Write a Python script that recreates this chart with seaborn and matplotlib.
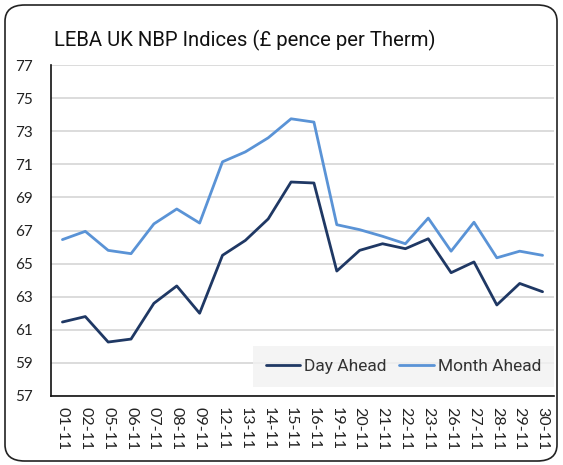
import matplotlib
matplotlib.use("Agg")
import matplotlib.pyplot as plt
import seaborn as sns
import pandas as pd
from matplotlib.patches import FancyBboxPatch

dates = ["01-11", "02-11", "05-11", "06-11", "07-11", "08-11", "09-11", "12-11",
         "13-11", "14-11", "15-11", "16-11", "19-11", "20-11", "21-11", "22-11",
         "23-11", "26-11", "27-11", "28-11", "29-11", "30-11"]
day_ahead = [61.47, 61.8, 60.26, 60.44, 62.6, 63.65, 62.0, 65.5, 66.4, 67.7, 69.93,
             69.87, 64.55, 65.8, 66.2, 65.9, 66.5, 64.45, 65.1, 62.5, 63.8, 63.3]
month_ahead = [66.45, 66.95, 65.8, 65.6, 67.4, 68.3, 67.45, 71.15, 71.75, 72.6, 73.75,
               73.55, 67.35, 67.05, 66.65, 66.2, 67.75, 65.75, 67.5, 65.35, 65.75, 65.5]
series_names = ["Day Ahead", "Month Ahead"]
yticks = [57, 59, 61, 63, 65, 67, 69, 71, 73, 75, 77]
title = "LEBA UK NBP Indices (£ pence per Therm)"

df = pd.DataFrame({
    "date": dates * 2,
    "value": day_ahead + month_ahead,
    "series": [series_names[0]] * len(dates) + [series_names[1]] * len(dates),
})
df["x"] = list(range(len(dates))) * 2

sns.set_style("white")
plt.rcParams["font.family"] = ["Lato", "DejaVu Sans"]

fig = plt.figure(figsize=(5.63, 4.65), dpi=100)
ax = fig.add_axes([0.0906, 0.1484, 0.9840 - 0.0906, 0.8602 - 0.1484])

palette = {"Day Ahead": "#1F3864", "Month Ahead": "#5A93D6"}
sns.lineplot(data=df, x="x", y="value", hue="series", palette=palette,
             linewidth=2.0, ax=ax, sort=False, legend=True)

ax.set_xlim(-0.5, len(dates) - 0.5)
ax.set_ylim(57, 77)
ax.set_yticks(yticks)
ax.set_yticklabels([str(v) for v in yticks], fontsize=11, color="#222222")
ax.set_xticks(range(len(dates)))
ax.set_xticklabels(dates, rotation=270, fontsize=11.5, color="#222222")
ax.tick_params(axis="y", length=0, pad=13)
ax.tick_params(axis="x", length=0, pad=8)
ax.set_xlabel("")
ax.set_ylabel("")
ax.yaxis.grid(True, color="#D9D9D9", linewidth=1.3)
ax.set_axisbelow(True)
for s in ["top", "right"]:
    ax.spines[s].set_visible(False)
for s in ["left", "bottom"]:
    ax.spines[s].set_color("#111111")
    ax.spines[s].set_linewidth(1.2)

leg = ax.legend(loc="lower right", bbox_to_anchor=(1.0, 0.027), ncol=2,
                frameon=True, handlelength=2.0, handletextpad=0.2,
                columnspacing=0.75, borderpad=0.75, borderaxespad=0, fancybox=False,
                prop={"family": ["Roboto", "DejaVu Sans"], "size": 12.5})
leg.get_frame().set_facecolor("#F2F2F2")
leg.get_frame().set_edgecolor("none")
for t in leg.get_texts():
    t.set_color("#333333")

fig.text(54 / 563, 1 - 40 / 465, title, fontsize=14.6, va="center", ha="left",
         color="#111111", family=["Roboto", "DejaVu Sans"])

border = FancyBboxPatch((5 / 563, 4 / 465), 552 / 563, 456 / 465,
                        boxstyle="round,pad=0,rounding_size=0.035",
                        transform=fig.transFigure, facecolor="none",
                        edgecolor="#222222", linewidth=1.2)
fig.patches.append(border)

fig.savefig("out.png", dpi=100)
